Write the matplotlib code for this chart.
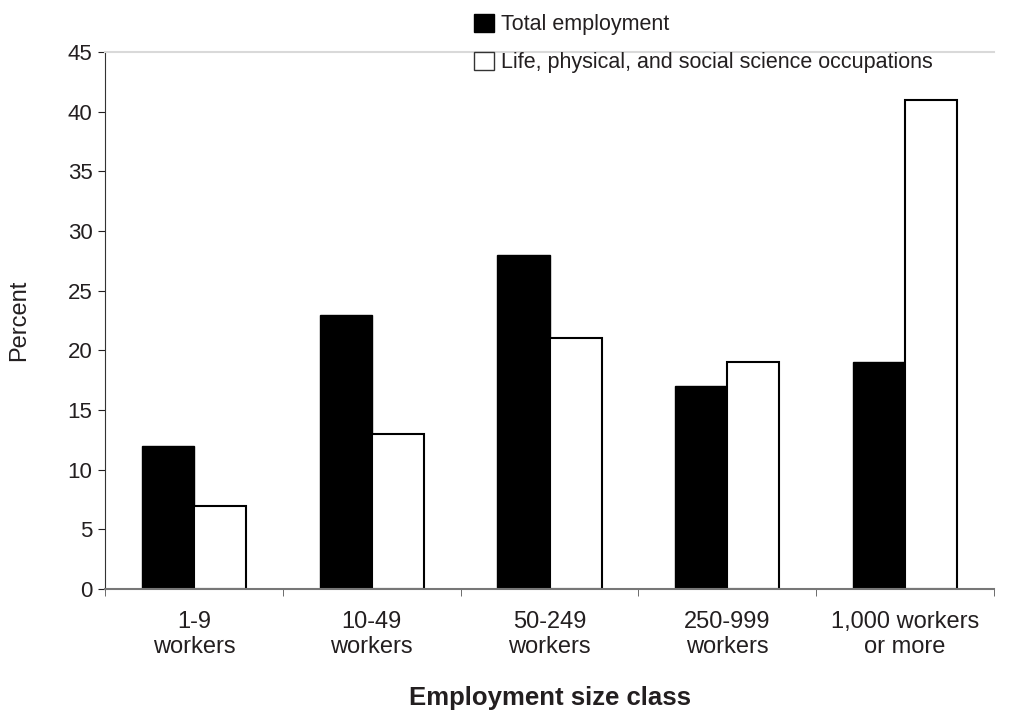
import numpy as np
import matplotlib
matplotlib.use("Agg")
import matplotlib.pyplot as plt
from matplotlib.patches import Patch

plt.rcParams['font.family'] = ['Liberation Sans', 'DejaVu Sans']

# data
categories = ['1-9\nworkers', '10-49\nworkers', '50-249\nworkers',
              '250-999\nworkers', '1,000 workers\nor more']
total_emp = [12, 23, 28, 17, 19]
life_sci = [7, 13, 21, 19, 41]
yticks = [0, 5, 10, 15, 20, 25, 30, 35, 40, 45]

txt = '#231f20'

fig = plt.figure(figsize=(10.13, 7.14), dpi=100)
ax = fig.add_axes([0.1037, 0.175, 0.8775, 0.752])

x = np.arange(len(categories))
w = 0.293
ax.bar(x - w/2, total_emp, w, color='black', edgecolor='black', linewidth=1)
ax.bar(x + w/2, life_sci, w, color='white', edgecolor='black', linewidth=1.5)

ax.set_xlim(-0.5, len(categories) - 0.5)
ax.set_ylim(0, 45)
ax.set_yticks(yticks)
ax.set_yticklabels([str(v) for v in yticks], fontsize=16, color=txt)

# category labels centred, ticks at the category boundaries
ax.set_xticks(x)
ax.set_xticklabels(categories, fontsize=17, color=txt, linespacing=1.15)
ax.tick_params(axis='x', length=0, pad=16)
ax.set_xticks(np.arange(len(categories) + 1) - 0.5, minor=True)
ax.tick_params(axis='x', which='minor', length=5, color='#555555', direction='out')
ax.tick_params(axis='y', length=5, color=txt, direction='out', pad=4)

ax.spines['right'].set_visible(False)
ax.spines['top'].set_color('#d9d9d9')
ax.spines['top'].set_linewidth(1.5)
ax.spines['left'].set_color('#333333')
ax.spines['bottom'].set_color('#777777')
ax.spines['bottom'].set_linewidth(1.5)

ax.set_ylabel('Percent', fontsize=17, color=txt, labelpad=27)
ax.set_xlabel('Employment size class', fontsize=18.5, fontweight='bold',
              color=txt, labelpad=20)

handles = [Patch(facecolor='black', edgecolor='black'),
           Patch(facecolor='white', edgecolor='#333333')]
fig.legend(handles, ['Total employment',
                     'Life, physical, and social science occupations'],
           loc='upper left', bbox_to_anchor=(0.449, 1.008), frameon=False,
           fontsize=15.5, handlelength=0.9, handleheight=0.9,
           handletextpad=0.35, labelspacing=0.78, labelcolor=txt)

fig.savefig('out.png', dpi=100)
